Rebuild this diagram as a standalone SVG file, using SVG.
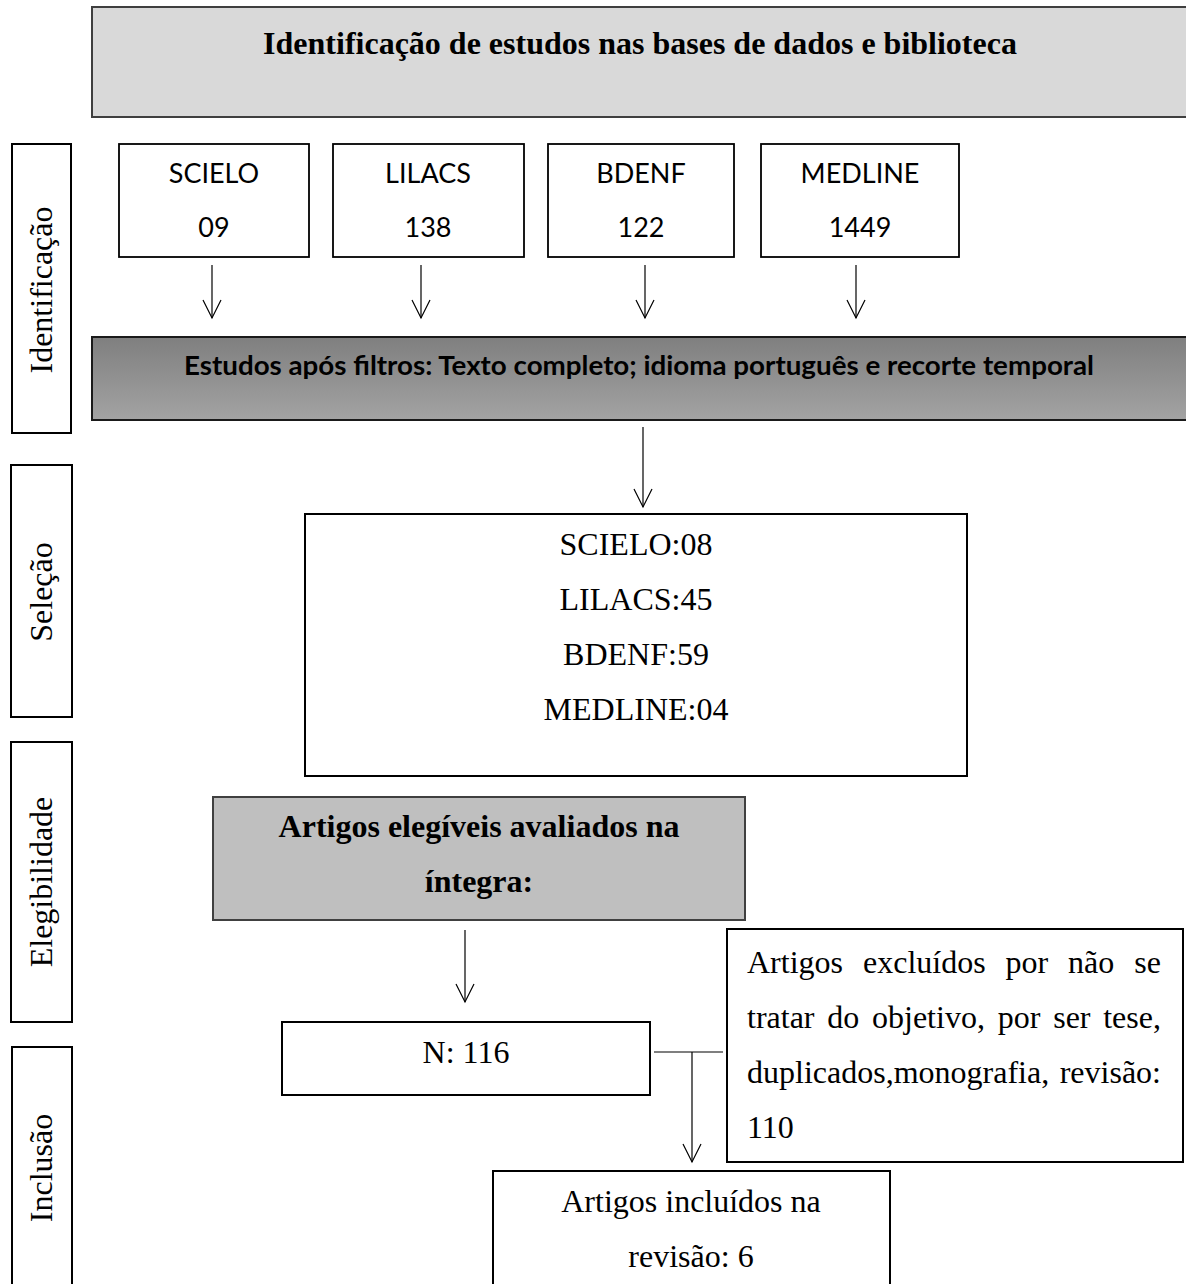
<svg xmlns="http://www.w3.org/2000/svg" width="1186" height="1284" viewBox="0 0 1186 1284">
  <defs>
    <linearGradient id="gradFilter" x1="0" y1="0" x2="0" y2="1">
      <stop offset="0" stop-color="#7f7f7f"/>
      <stop offset="1" stop-color="#a3a3a3"/>
    </linearGradient>
    <marker id="arrowOpen" markerUnits="userSpaceOnUse" viewBox="-20 -11 22 22" refX="0" refY="0" markerWidth="22" markerHeight="22" orient="auto" overflow="visible">
      <path d="M-18,-9 L0,0 L-18,9" fill="none" stroke="#000" stroke-width="1.2"/>
    </marker>
  </defs>
  <style>
    .box { fill: #ffffff; stroke: #000000; stroke-width: 2; }
    .src { fill: #ffffff; stroke: #000000; stroke-width: 1.8; }
    .serif { font-family: "Liberation Serif", "Times New Roman", serif; font-size: 32px; fill: #000; }
    .bold { font-weight: bold; }
    .sans { font-family: Lato, "Open Sans", "Liberation Sans", sans-serif; font-size: 27px; fill: #000; }
    .mid { text-anchor: middle; }
    .conn { fill: none; stroke: #000; stroke-width: 1.2; }
  </style>
  <rect width="1186" height="1284" fill="#ffffff"/>

  <g id="title">
    <rect x="92" y="7" width="1098" height="110" fill="#d9d9d9" stroke="#3f3f3f" stroke-width="2"/>
    <text class="serif bold mid" x="640" y="54">Identificação de estudos nas bases de dados e biblioteca</text>
  </g>

  <g id="label-identificacao">
    <rect class="box" x="12" y="144" width="59" height="289"/>
    <text class="serif mid" transform="translate(52,290) rotate(-90)">Identificação</text>
  </g>
  <g id="label-selecao">
    <rect class="box" x="11" y="465" width="61" height="252"/>
    <text class="serif mid" transform="translate(52,592) rotate(-90)">Seleção</text>
  </g>
  <g id="label-elegibilidade">
    <rect class="box" x="11" y="742" width="61" height="280"/>
    <text class="serif mid" transform="translate(52,882) rotate(-90)">Elegibilidade</text>
  </g>
  <g id="label-inclusao">
    <rect class="box" x="12" y="1047" width="60" height="250"/>
    <text class="serif mid" transform="translate(52,1168) rotate(-90)">Inclusão</text>
  </g>

  <g id="src-scielo">
    <rect class="src" x="119" y="144" width="190" height="113"/>
    <text class="sans mid" x="214" y="183">SCIELO</text>
    <text class="sans mid" x="214" y="237">09</text>
  </g>
  <g id="src-lilacs">
    <rect class="src" x="333" y="144" width="191" height="113"/>
    <text class="sans mid" x="428" y="183">LILACS</text>
    <text class="sans mid" x="428" y="237">138</text>
  </g>
  <g id="src-bdenf">
    <rect class="src" x="548" y="144" width="186" height="113"/>
    <text class="sans mid" x="641" y="183">BDENF</text>
    <text class="sans mid" x="641" y="237">122</text>
  </g>
  <g id="src-medline">
    <rect class="src" x="761" y="144" width="198" height="113"/>
    <text class="sans mid" x="860" y="183">MEDLINE</text>
    <text class="sans mid" x="860" y="237">1449</text>
  </g>

  <g id="filters">
    <rect x="92" y="337" width="1098" height="83" fill="url(#gradFilter)" stroke="#1a1a1a" stroke-width="2"/>
    <text class="sans mid" x="639" y="375" font-weight="bold" font-size="28" textLength="910" lengthAdjust="spacingAndGlyphs">Estudos após filtros: Texto completo; idioma português e recorte temporal</text>
  </g>

  <g id="selection">
    <rect class="box" x="305" y="514" width="662" height="262"/>
    <text class="serif mid" x="636" y="555">SCIELO:08</text>
    <text class="serif mid" x="636" y="610">LILACS:45</text>
    <text class="serif mid" x="636" y="665">BDENF:59</text>
    <text class="serif mid" x="636" y="720">MEDLINE:04</text>
  </g>

  <g id="eligible">
    <rect x="213" y="797" width="532" height="123" fill="#bfbfbf" stroke="#404040" stroke-width="2"/>
    <text class="serif bold mid" x="479" y="837">Artigos elegíveis avaliados na</text>
    <text class="serif bold mid" x="479" y="892">íntegra:</text>
  </g>

  <g id="n116">
    <rect class="box" x="282" y="1022" width="368" height="73"/>
    <text class="serif mid" x="466" y="1063">N: 116</text>
  </g>

  <g id="excluded">
    <rect class="box" x="727" y="929" width="456" height="233"/>
    <text class="serif" y="973"><tspan x="747">Artigos</tspan><tspan x="863">excluídos</tspan><tspan x="1005.5">por</tspan><tspan x="1068">não</tspan><tspan x="1134.3">se</tspan></text>
    <text class="serif" y="1028"><tspan x="747">tratar</tspan><tspan x="827.3">do</tspan><tspan x="872">objetivo,</tspan><tspan x="997.7">por</tspan><tspan x="1053.2">ser</tspan><tspan x="1103.2">tese,</tspan></text>
    <text class="serif" y="1083"><tspan x="747">duplicados,monografia,</tspan><tspan x="1059.7">revisão:</tspan></text>
    <text class="serif" x="747" y="1138">110</text>
  </g>

  <g id="included">
    <rect class="box" x="493" y="1171" width="397" height="130"/>
    <text class="serif mid" x="691" y="1212">Artigos incluídos na</text>
    <text class="serif mid" x="691" y="1267">revisão: 6</text>
  </g>

  <g id="connectors">
    <line class="conn" x1="212" y1="265" x2="212" y2="318" marker-end="url(#arrowOpen)"/>
    <line class="conn" x1="421" y1="265" x2="421" y2="318" marker-end="url(#arrowOpen)"/>
    <line class="conn" x1="645" y1="265" x2="645" y2="318" marker-end="url(#arrowOpen)"/>
    <line class="conn" x1="856" y1="265" x2="856" y2="318" marker-end="url(#arrowOpen)"/>
    <line class="conn" x1="643" y1="427" x2="643" y2="507" marker-end="url(#arrowOpen)"/>
    <line class="conn" x1="465" y1="930" x2="465" y2="1002" marker-end="url(#arrowOpen)"/>
    <line class="conn" x1="654" y1="1052" x2="723" y2="1052"/>
    <line class="conn" x1="692" y1="1052" x2="692" y2="1162" marker-end="url(#arrowOpen)"/>
  </g>
</svg>
